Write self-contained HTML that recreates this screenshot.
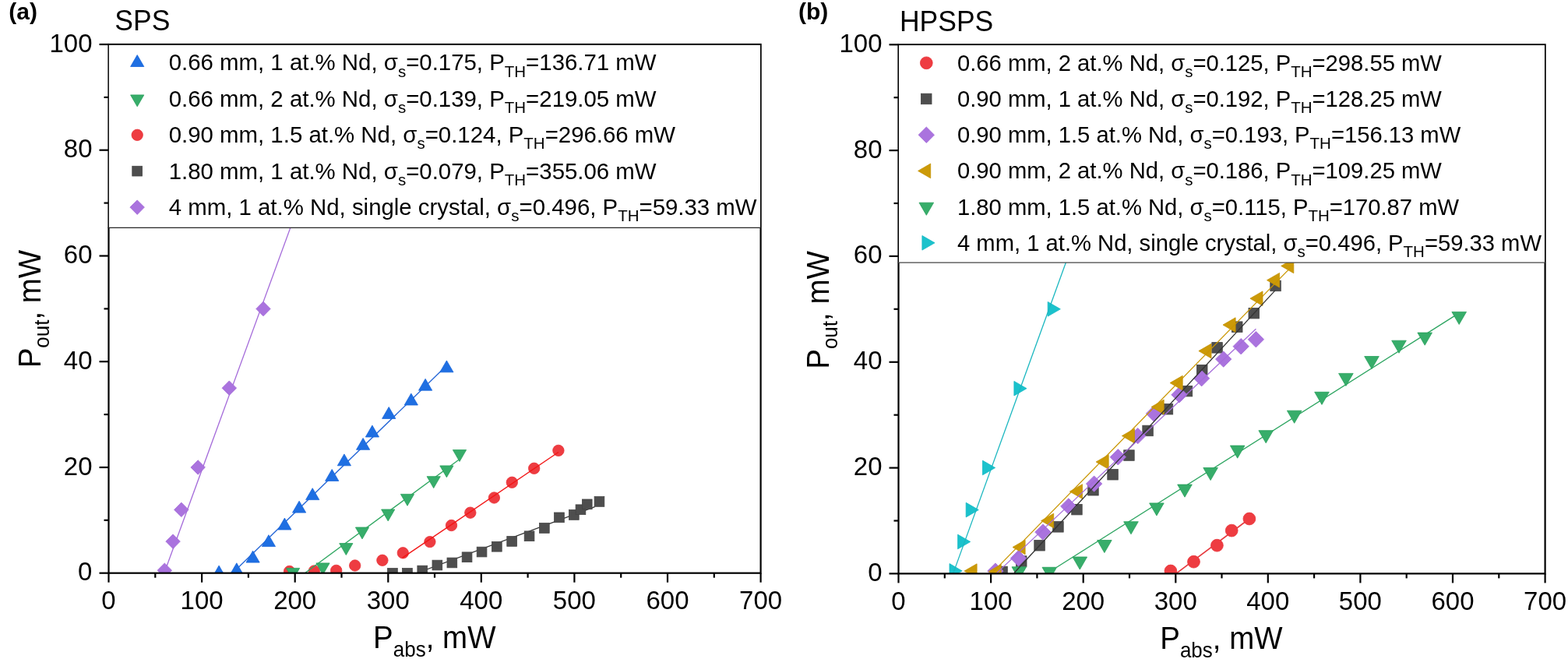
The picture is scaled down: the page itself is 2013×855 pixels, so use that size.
<!DOCTYPE html>
<html><head><meta charset="utf-8"><title>Laser output power vs absorbed power</title>
<style>html,body{margin:0;padding:0;background:#fff;overflow:hidden}svg{display:block}</style>
</head><body>
<svg width="2013" height="855" viewBox="0 0 2013 855" font-family='"Liberation Sans", Arial, Helvetica, sans-serif'>
<defs><clipPath id="ca"><rect x="139.5" y="57.0" width="837.1" height="678.7"/></clipPath><clipPath id="cb"><rect x="1153.5" y="57.3" width="830.1" height="679.1"/></clipPath></defs>
<rect width="2013" height="855" fill="#fff"/>
<text x="11.3" y="25.1" font-size="30" font-weight="bold">(a)</text>
<text x="1025.0" y="24.8" font-size="30" font-weight="bold">(b)</text>
<text x="147.3" y="39" transform="matrix(1 0 0 1.040 0 -1.560)" font-size="35.5">SPS</text>
<text x="1155" y="40.2" transform="matrix(1 0 0 1.040 0 -1.608)" font-size="35.5">HPSPS</text>
<g clip-path="url(#ca)">
<line x1="534.3" y1="736.0" x2="763.6" y2="650.6" stroke="#333333" stroke-width="1.3"/>
<rect x="497.6" y="729.6" width="12.7" height="12.7" fill="#4e4e4e" stroke="#444444" stroke-width="0.8"/>
<rect x="516.6" y="729.6" width="12.7" height="12.7" fill="#4e4e4e" stroke="#444444" stroke-width="0.8"/>
<rect x="535.9" y="726.2" width="12.7" height="12.7" fill="#4e4e4e" stroke="#444444" stroke-width="0.8"/>
<rect x="555.0" y="719.2" width="12.7" height="12.7" fill="#4e4e4e" stroke="#444444" stroke-width="0.8"/>
<rect x="574.0" y="716.1" width="12.7" height="12.7" fill="#4e4e4e" stroke="#444444" stroke-width="0.8"/>
<rect x="593.2" y="708.9" width="12.7" height="12.7" fill="#4e4e4e" stroke="#444444" stroke-width="0.8"/>
<rect x="612.2" y="702.2" width="12.7" height="12.7" fill="#4e4e4e" stroke="#444444" stroke-width="0.8"/>
<rect x="631.5" y="695.4" width="12.7" height="12.7" fill="#4e4e4e" stroke="#444444" stroke-width="0.8"/>
<rect x="650.8" y="688.6" width="12.7" height="12.7" fill="#4e4e4e" stroke="#444444" stroke-width="0.8"/>
<rect x="673.2" y="681.9" width="12.7" height="12.7" fill="#4e4e4e" stroke="#444444" stroke-width="0.8"/>
<rect x="692.5" y="671.6" width="12.7" height="12.7" fill="#4e4e4e" stroke="#444444" stroke-width="0.8"/>
<rect x="711.6" y="658.0" width="12.7" height="12.7" fill="#4e4e4e" stroke="#444444" stroke-width="0.8"/>
<rect x="730.5" y="654.6" width="12.7" height="12.7" fill="#4e4e4e" stroke="#444444" stroke-width="0.8"/>
<rect x="739.1" y="647.9" width="12.7" height="12.7" fill="#4e4e4e" stroke="#444444" stroke-width="0.8"/>
<rect x="747.4" y="641.0" width="12.7" height="12.7" fill="#4e4e4e" stroke="#444444" stroke-width="0.8"/>
<rect x="763.1" y="637.6" width="12.7" height="12.7" fill="#4e4e4e" stroke="#444444" stroke-width="0.8"/>
<circle cx="371.6" cy="733.5" r="7.2" fill="#ee3c41" stroke="#e8343a" stroke-width="0.8"/>
<circle cx="403.3" cy="733.0" r="7.2" fill="#ee3c41" stroke="#e8343a" stroke-width="0.8"/>
<circle cx="431.7" cy="732.4" r="7.2" fill="#ee3c41" stroke="#e8343a" stroke-width="0.8"/>
<circle cx="455.7" cy="726.0" r="7.2" fill="#ee3c41" stroke="#e8343a" stroke-width="0.8"/>
<circle cx="490.9" cy="719.3" r="7.2" fill="#ee3c41" stroke="#e8343a" stroke-width="0.8"/>
<circle cx="517.3" cy="709.8" r="7.2" fill="#ee3c41" stroke="#e8343a" stroke-width="0.8"/>
<circle cx="551.9" cy="695.6" r="7.2" fill="#ee3c41" stroke="#e8343a" stroke-width="0.8"/>
<circle cx="579.5" cy="674.5" r="7.2" fill="#ee3c41" stroke="#e8343a" stroke-width="0.8"/>
<circle cx="603.8" cy="658.2" r="7.2" fill="#ee3c41" stroke="#e8343a" stroke-width="0.8"/>
<circle cx="634.4" cy="639.0" r="7.2" fill="#ee3c41" stroke="#e8343a" stroke-width="0.8"/>
<circle cx="657.3" cy="619.3" r="7.2" fill="#ee3c41" stroke="#e8343a" stroke-width="0.8"/>
<circle cx="685.7" cy="601.3" r="7.2" fill="#ee3c41" stroke="#e8343a" stroke-width="0.8"/>
<circle cx="716.9" cy="578.4" r="7.2" fill="#ee3c41" stroke="#e8343a" stroke-width="0.8"/>
<line x1="516.6" y1="716.1" x2="716.9" y2="580.5" stroke="#f21515" stroke-width="1.4"/>
<line x1="391.1" y1="736.0" x2="590.0" y2="589.4" stroke="#2ea660" stroke-width="1.3"/>
<polygon points="376.1,744.3 384.7,729.4 367.5,729.4" fill="#37ad6a" stroke="#27a05b" stroke-width="0.8" stroke-linejoin="miter"/>
<polygon points="414.5,737.8 423.1,722.9 405.9,722.9" fill="#37ad6a" stroke="#27a05b" stroke-width="0.8" stroke-linejoin="miter"/>
<polygon points="444.3,712.5 452.9,697.6 435.7,697.6" fill="#37ad6a" stroke="#27a05b" stroke-width="0.8" stroke-linejoin="miter"/>
<polygon points="465.0,691.9 473.6,677.0 456.4,677.0" fill="#37ad6a" stroke="#27a05b" stroke-width="0.8" stroke-linejoin="miter"/>
<polygon points="498.2,668.9 506.8,654.0 489.6,654.0" fill="#37ad6a" stroke="#27a05b" stroke-width="0.8" stroke-linejoin="miter"/>
<polygon points="523.0,649.3 531.6,634.4 514.4,634.4" fill="#37ad6a" stroke="#27a05b" stroke-width="0.8" stroke-linejoin="miter"/>
<polygon points="556.7,626.6 565.3,611.7 548.1,611.7" fill="#37ad6a" stroke="#27a05b" stroke-width="0.8" stroke-linejoin="miter"/>
<polygon points="573.4,612.8 582.0,597.9 564.8,597.9" fill="#37ad6a" stroke="#27a05b" stroke-width="0.8" stroke-linejoin="miter"/>
<polygon points="590.0,592.5 598.6,577.6 581.4,577.6" fill="#37ad6a" stroke="#27a05b" stroke-width="0.8" stroke-linejoin="miter"/>
<line x1="298.2" y1="736.0" x2="573.4" y2="469.3" stroke="#2264d6" stroke-width="1.3"/>
<polygon points="281.1,726.1 289.7,741.0 272.5,741.0" fill="#1f6fe2" stroke="#1664da" stroke-width="0.8" stroke-linejoin="miter"/>
<polygon points="303.8,722.8 312.4,737.7 295.2,737.7" fill="#1f6fe2" stroke="#1664da" stroke-width="0.8" stroke-linejoin="miter"/>
<polygon points="324.6,707.2 333.2,722.1 316.0,722.1" fill="#1f6fe2" stroke="#1664da" stroke-width="0.8" stroke-linejoin="miter"/>
<polygon points="344.9,686.7 353.5,701.6 336.3,701.6" fill="#1f6fe2" stroke="#1664da" stroke-width="0.8" stroke-linejoin="miter"/>
<polygon points="365.4,665.1 374.0,680.0 356.8,680.0" fill="#1f6fe2" stroke="#1664da" stroke-width="0.8" stroke-linejoin="miter"/>
<polygon points="384.1,643.2 392.7,658.1 375.5,658.1" fill="#1f6fe2" stroke="#1664da" stroke-width="0.8" stroke-linejoin="miter"/>
<polygon points="401.2,626.7 409.8,641.6 392.6,641.6" fill="#1f6fe2" stroke="#1664da" stroke-width="0.8" stroke-linejoin="miter"/>
<polygon points="426.2,602.5 434.8,617.4 417.6,617.4" fill="#1f6fe2" stroke="#1664da" stroke-width="0.8" stroke-linejoin="miter"/>
<polygon points="441.9,582.9 450.5,597.8 433.3,597.8" fill="#1f6fe2" stroke="#1664da" stroke-width="0.8" stroke-linejoin="miter"/>
<polygon points="466.1,562.4 474.7,577.3 457.5,577.3" fill="#1f6fe2" stroke="#1664da" stroke-width="0.8" stroke-linejoin="miter"/>
<polygon points="477.9,546.1 486.5,561.0 469.3,561.0" fill="#1f6fe2" stroke="#1664da" stroke-width="0.8" stroke-linejoin="miter"/>
<polygon points="499.2,522.5 507.8,537.4 490.6,537.4" fill="#1f6fe2" stroke="#1664da" stroke-width="0.8" stroke-linejoin="miter"/>
<polygon points="527.8,505.1 536.4,520.0 519.2,520.0" fill="#1f6fe2" stroke="#1664da" stroke-width="0.8" stroke-linejoin="miter"/>
<polygon points="546.1,486.3 554.7,501.2 537.5,501.2" fill="#1f6fe2" stroke="#1664da" stroke-width="0.8" stroke-linejoin="miter"/>
<polygon points="573.4,462.9 582.0,477.8 564.8,477.8" fill="#1f6fe2" stroke="#1664da" stroke-width="0.8" stroke-linejoin="miter"/>
<line x1="210.8" y1="735.7" x2="388.3" y2="250.0" stroke="#a56cda" stroke-width="1.3"/>
<polygon points="211.3,723.0 220.6,732.2 211.3,741.5 202.1,732.2" fill="#aa73de" stroke="#a36bd8" stroke-width="0.8" stroke-linejoin="miter"/>
<polygon points="222.1,685.9 231.3,695.1 222.1,704.4 212.8,695.1" fill="#aa73de" stroke="#a36bd8" stroke-width="0.8" stroke-linejoin="miter"/>
<polygon points="232.8,645.1 242.1,654.4 232.8,663.6 223.6,654.4" fill="#aa73de" stroke="#a36bd8" stroke-width="0.8" stroke-linejoin="miter"/>
<polygon points="254.2,590.8 263.4,600.0 254.2,609.2 244.9,600.0" fill="#aa73de" stroke="#a36bd8" stroke-width="0.8" stroke-linejoin="miter"/>
<polygon points="294.3,488.9 303.6,498.2 294.3,507.4 285.1,498.2" fill="#aa73de" stroke="#a36bd8" stroke-width="0.8" stroke-linejoin="miter"/>
<polygon points="338.0,387.2 347.2,396.5 338.0,405.8 328.8,396.5" fill="#aa73de" stroke="#a36bd8" stroke-width="0.8" stroke-linejoin="miter"/>
</g>
<g clip-path="url(#cb)">
<line x1="1509.8" y1="736.4" x2="1603.9" y2="666.0" stroke="#e63a3f" stroke-width="1.7"/>
<line x1="1356.2" y1="728.5" x2="1873.2" y2="401.9" stroke="#29a35e" stroke-width="1.3"/>
<circle cx="1502.9" cy="733.0" r="7.9" fill="#ee3c41" stroke="#e8343a" stroke-width="0.8"/>
<circle cx="1532.5" cy="721.2" r="7.9" fill="#ee3c41" stroke="#e8343a" stroke-width="0.8"/>
<circle cx="1562.4" cy="700.2" r="7.9" fill="#ee3c41" stroke="#e8343a" stroke-width="0.8"/>
<circle cx="1581.2" cy="681.1" r="7.9" fill="#ee3c41" stroke="#e8343a" stroke-width="0.8"/>
<circle cx="1603.9" cy="666.0" r="7.9" fill="#ee3c41" stroke="#e8343a" stroke-width="0.8"/>
<rect x="1279.8" y="727.2" width="13.5" height="13.5" fill="#4e4e4e" stroke="#444444" stroke-width="0.8"/>
<rect x="1304.5" y="713.8" width="13.5" height="13.5" fill="#4e4e4e" stroke="#444444" stroke-width="0.8"/>
<rect x="1327.8" y="693.5" width="13.5" height="13.5" fill="#4e4e4e" stroke="#444444" stroke-width="0.8"/>
<rect x="1351.7" y="669.6" width="13.5" height="13.5" fill="#4e4e4e" stroke="#444444" stroke-width="0.8"/>
<rect x="1375.7" y="647.4" width="13.5" height="13.5" fill="#4e4e4e" stroke="#444444" stroke-width="0.8"/>
<rect x="1396.7" y="622.5" width="13.5" height="13.5" fill="#4e4e4e" stroke="#444444" stroke-width="0.8"/>
<rect x="1421.8" y="602.5" width="13.5" height="13.5" fill="#4e4e4e" stroke="#444444" stroke-width="0.8"/>
<rect x="1442.7" y="577.8" width="13.5" height="13.5" fill="#4e4e4e" stroke="#444444" stroke-width="0.8"/>
<rect x="1466.8" y="546.2" width="13.5" height="13.5" fill="#4e4e4e" stroke="#444444" stroke-width="0.8"/>
<rect x="1492.2" y="518.5" width="13.5" height="13.5" fill="#4e4e4e" stroke="#444444" stroke-width="0.8"/>
<rect x="1517.2" y="495.4" width="13.5" height="13.5" fill="#4e4e4e" stroke="#444444" stroke-width="0.8"/>
<rect x="1536.5" y="468.4" width="13.5" height="13.5" fill="#4e4e4e" stroke="#444444" stroke-width="0.8"/>
<rect x="1555.8" y="439.6" width="13.5" height="13.5" fill="#4e4e4e" stroke="#444444" stroke-width="0.8"/>
<rect x="1581.5" y="412.9" width="13.5" height="13.5" fill="#4e4e4e" stroke="#444444" stroke-width="0.8"/>
<rect x="1603.0" y="395.4" width="13.5" height="13.5" fill="#4e4e4e" stroke="#444444" stroke-width="0.8"/>
<rect x="1630.8" y="360.2" width="13.5" height="13.5" fill="#4e4e4e" stroke="#444444" stroke-width="0.8"/>
<polygon points="1277.9,722.9 1288.1,733.1 1277.9,743.3 1267.7,733.1" fill="#aa73de" stroke="#a36bd8" stroke-width="0.8" stroke-linejoin="miter"/>
<polygon points="1307.5,706.5 1317.7,716.7 1307.5,726.9 1297.3,716.7" fill="#aa73de" stroke="#a36bd8" stroke-width="0.8" stroke-linejoin="miter"/>
<polygon points="1338.9,672.9 1349.1,683.1 1338.9,693.3 1328.7,683.1" fill="#aa73de" stroke="#a36bd8" stroke-width="0.8" stroke-linejoin="miter"/>
<polygon points="1371.8,639.8 1382.0,650.0 1371.8,660.2 1361.6,650.0" fill="#aa73de" stroke="#a36bd8" stroke-width="0.8" stroke-linejoin="miter"/>
<polygon points="1404.6,610.9 1414.8,621.1 1404.6,631.3 1394.4,621.1" fill="#aa73de" stroke="#a36bd8" stroke-width="0.8" stroke-linejoin="miter"/>
<polygon points="1435.3,576.6 1445.5,586.8 1435.3,597.0 1425.1,586.8" fill="#aa73de" stroke="#a36bd8" stroke-width="0.8" stroke-linejoin="miter"/>
<polygon points="1460.7,549.4 1470.9,559.6 1460.7,569.8 1450.5,559.6" fill="#aa73de" stroke="#a36bd8" stroke-width="0.8" stroke-linejoin="miter"/>
<polygon points="1481.5,520.8 1491.7,531.0 1481.5,541.2 1471.3,531.0" fill="#aa73de" stroke="#a36bd8" stroke-width="0.8" stroke-linejoin="miter"/>
<polygon points="1514.0,496.6 1524.2,506.8 1514.0,517.0 1503.8,506.8" fill="#aa73de" stroke="#a36bd8" stroke-width="0.8" stroke-linejoin="miter"/>
<polygon points="1542.6,475.5 1552.8,485.7 1542.6,495.9 1532.4,485.7" fill="#aa73de" stroke="#a36bd8" stroke-width="0.8" stroke-linejoin="miter"/>
<polygon points="1570.7,450.9 1580.9,461.1 1570.7,471.3 1560.5,461.1" fill="#aa73de" stroke="#a36bd8" stroke-width="0.8" stroke-linejoin="miter"/>
<polygon points="1593.2,434.5 1603.4,444.7 1593.2,454.9 1583.0,444.7" fill="#aa73de" stroke="#a36bd8" stroke-width="0.8" stroke-linejoin="miter"/>
<polygon points="1612.4,425.5 1622.6,435.7 1612.4,445.9 1602.2,435.7" fill="#aa73de" stroke="#a36bd8" stroke-width="0.8" stroke-linejoin="miter"/>
<polygon points="1238.0,733.1 1254.1,723.8 1254.1,742.4" fill="#cc9a08" stroke="#c49204" stroke-width="0.8" stroke-linejoin="miter"/>
<polygon points="1269.1,733.7 1285.2,724.4 1285.2,743.0" fill="#cc9a08" stroke="#c49204" stroke-width="0.8" stroke-linejoin="miter"/>
<polygon points="1300.0,702.5 1316.1,693.2 1316.1,711.8" fill="#cc9a08" stroke="#c49204" stroke-width="0.8" stroke-linejoin="miter"/>
<polygon points="1336.6,668.5 1352.7,659.2 1352.7,677.8" fill="#cc9a08" stroke="#c49204" stroke-width="0.8" stroke-linejoin="miter"/>
<polygon points="1373.4,631.0 1389.5,621.7 1389.5,640.3" fill="#cc9a08" stroke="#c49204" stroke-width="0.8" stroke-linejoin="miter"/>
<polygon points="1407.1,593.0 1423.2,583.7 1423.2,602.3" fill="#cc9a08" stroke="#c49204" stroke-width="0.8" stroke-linejoin="miter"/>
<polygon points="1440.4,559.6 1456.5,550.3 1456.5,568.9" fill="#cc9a08" stroke="#c49204" stroke-width="0.8" stroke-linejoin="miter"/>
<polygon points="1478.1,522.4 1494.2,513.1 1494.2,531.7" fill="#cc9a08" stroke="#c49204" stroke-width="0.8" stroke-linejoin="miter"/>
<polygon points="1502.1,491.6 1518.2,482.3 1518.2,500.9" fill="#cc9a08" stroke="#c49204" stroke-width="0.8" stroke-linejoin="miter"/>
<polygon points="1538.9,450.6 1555.0,441.3 1555.0,459.9" fill="#cc9a08" stroke="#c49204" stroke-width="0.8" stroke-linejoin="miter"/>
<polygon points="1570.0,417.1 1586.1,407.8 1586.1,426.4" fill="#cc9a08" stroke="#c49204" stroke-width="0.8" stroke-linejoin="miter"/>
<polygon points="1604.9,383.2 1621.0,373.9 1621.0,392.5" fill="#cc9a08" stroke="#c49204" stroke-width="0.8" stroke-linejoin="miter"/>
<polygon points="1626.5,359.7 1642.6,350.4 1642.6,369.0" fill="#cc9a08" stroke="#c49204" stroke-width="0.8" stroke-linejoin="miter"/>
<polygon points="1644.7,341.4 1660.8,332.1 1660.8,350.7" fill="#cc9a08" stroke="#c49204" stroke-width="0.8" stroke-linejoin="miter"/>
<polygon points="1308.3,743.9 1317.6,727.8 1299.0,727.8" fill="#37ad6a" stroke="#27a05b" stroke-width="0.8" stroke-linejoin="miter"/>
<polygon points="1347.3,744.4 1356.6,728.3 1338.0,728.3" fill="#37ad6a" stroke="#27a05b" stroke-width="0.8" stroke-linejoin="miter"/>
<polygon points="1386.3,731.1 1395.6,715.0 1377.0,715.0" fill="#37ad6a" stroke="#27a05b" stroke-width="0.8" stroke-linejoin="miter"/>
<polygon points="1417.9,709.6 1427.2,693.5 1408.6,693.5" fill="#37ad6a" stroke="#27a05b" stroke-width="0.8" stroke-linejoin="miter"/>
<polygon points="1452.0,685.8 1461.3,669.7 1442.7,669.7" fill="#37ad6a" stroke="#27a05b" stroke-width="0.8" stroke-linejoin="miter"/>
<polygon points="1484.9,662.0 1494.2,645.9 1475.6,645.9" fill="#37ad6a" stroke="#27a05b" stroke-width="0.8" stroke-linejoin="miter"/>
<polygon points="1521.0,638.2 1530.3,622.1 1511.7,622.1" fill="#37ad6a" stroke="#27a05b" stroke-width="0.8" stroke-linejoin="miter"/>
<polygon points="1554.1,616.6 1563.4,600.5 1544.8,600.5" fill="#37ad6a" stroke="#27a05b" stroke-width="0.8" stroke-linejoin="miter"/>
<polygon points="1588.7,588.2 1598.0,572.1 1579.4,572.1" fill="#37ad6a" stroke="#27a05b" stroke-width="0.8" stroke-linejoin="miter"/>
<polygon points="1625.2,568.8 1634.5,552.7 1615.9,552.7" fill="#37ad6a" stroke="#27a05b" stroke-width="0.8" stroke-linejoin="miter"/>
<polygon points="1661.7,543.3 1671.0,527.2 1652.4,527.2" fill="#37ad6a" stroke="#27a05b" stroke-width="0.8" stroke-linejoin="miter"/>
<polygon points="1697.0,519.4 1706.3,503.3 1687.7,503.3" fill="#37ad6a" stroke="#27a05b" stroke-width="0.8" stroke-linejoin="miter"/>
<polygon points="1727.9,495.5 1737.2,479.4 1718.6,479.4" fill="#37ad6a" stroke="#27a05b" stroke-width="0.8" stroke-linejoin="miter"/>
<polygon points="1761.0,473.6 1770.3,457.5 1751.7,457.5" fill="#37ad6a" stroke="#27a05b" stroke-width="0.8" stroke-linejoin="miter"/>
<polygon points="1796.0,453.3 1805.3,437.2 1786.7,437.2" fill="#37ad6a" stroke="#27a05b" stroke-width="0.8" stroke-linejoin="miter"/>
<polygon points="1829.2,443.2 1838.5,427.1 1819.9,427.1" fill="#37ad6a" stroke="#27a05b" stroke-width="0.8" stroke-linejoin="miter"/>
<polygon points="1873.2,416.5 1882.5,400.4 1863.9,400.4" fill="#37ad6a" stroke="#27a05b" stroke-width="0.8" stroke-linejoin="miter"/>
<polygon points="1235.1,732.9 1219.0,723.6 1219.0,742.2" fill="#1bc2cc" stroke="#12b9c4" stroke-width="0.8" stroke-linejoin="miter"/>
<polygon points="1245.7,695.5 1229.6,686.2 1229.6,704.8" fill="#1bc2cc" stroke="#12b9c4" stroke-width="0.8" stroke-linejoin="miter"/>
<polygon points="1256.3,654.6 1240.2,645.3 1240.2,663.9" fill="#1bc2cc" stroke="#12b9c4" stroke-width="0.8" stroke-linejoin="miter"/>
<polygon points="1277.6,600.5 1261.5,591.2 1261.5,609.8" fill="#1bc2cc" stroke="#12b9c4" stroke-width="0.8" stroke-linejoin="miter"/>
<polygon points="1318.0,498.7 1301.9,489.4 1301.9,508.0" fill="#1bc2cc" stroke="#12b9c4" stroke-width="0.8" stroke-linejoin="miter"/>
<polygon points="1361.3,396.8 1345.2,387.5 1345.2,406.1" fill="#1bc2cc" stroke="#12b9c4" stroke-width="0.8" stroke-linejoin="miter"/>
<line x1="1302.0" y1="735.5" x2="1637.0" y2="372.9" stroke="#333333" stroke-width="1.3"/>
<line x1="1278.9" y1="736.4" x2="1612.4" y2="422.3" stroke="#a56cda" stroke-width="1.3"/>
<line x1="1272.8" y1="736.4" x2="1656.0" y2="344.4" stroke="#c99600" stroke-width="1.3"/>
<line x1="1223.6" y1="736.4" x2="1381.8" y2="300.0" stroke="#1bb7c0" stroke-width="1.3"/>
</g>
<rect x="139.5" y="57.0" width="837.1" height="678.7" fill="none" stroke="#000" stroke-width="2.2"/>
<line x1="139.5" y1="735.7" x2="139.5" y2="747.7" stroke="#000" stroke-width="2.2"/>
<text x="139.5" y="782.2" transform="matrix(1 0 0 1.035 0 -27.377)" font-size="33" text-anchor="middle">0</text>
<line x1="199.3" y1="735.7" x2="199.3" y2="741.7" stroke="#000" stroke-width="2.2"/>
<line x1="259.1" y1="735.7" x2="259.1" y2="747.7" stroke="#000" stroke-width="2.2"/>
<text x="259.1" y="782.2" transform="matrix(1 0 0 1.035 0 -27.377)" font-size="33" text-anchor="middle">100</text>
<line x1="318.9" y1="735.7" x2="318.9" y2="741.7" stroke="#000" stroke-width="2.2"/>
<line x1="378.7" y1="735.7" x2="378.7" y2="747.7" stroke="#000" stroke-width="2.2"/>
<text x="378.7" y="782.2" transform="matrix(1 0 0 1.035 0 -27.377)" font-size="33" text-anchor="middle">200</text>
<line x1="438.5" y1="735.7" x2="438.5" y2="741.7" stroke="#000" stroke-width="2.2"/>
<line x1="498.3" y1="735.7" x2="498.3" y2="747.7" stroke="#000" stroke-width="2.2"/>
<text x="498.3" y="782.2" transform="matrix(1 0 0 1.035 0 -27.377)" font-size="33" text-anchor="middle">300</text>
<line x1="558.0" y1="735.7" x2="558.0" y2="741.7" stroke="#000" stroke-width="2.2"/>
<line x1="617.8" y1="735.7" x2="617.8" y2="747.7" stroke="#000" stroke-width="2.2"/>
<text x="617.8" y="782.2" transform="matrix(1 0 0 1.035 0 -27.377)" font-size="33" text-anchor="middle">400</text>
<line x1="677.6" y1="735.7" x2="677.6" y2="741.7" stroke="#000" stroke-width="2.2"/>
<line x1="737.4" y1="735.7" x2="737.4" y2="747.7" stroke="#000" stroke-width="2.2"/>
<text x="737.4" y="782.2" transform="matrix(1 0 0 1.035 0 -27.377)" font-size="33" text-anchor="middle">500</text>
<line x1="797.2" y1="735.7" x2="797.2" y2="741.7" stroke="#000" stroke-width="2.2"/>
<line x1="857.0" y1="735.7" x2="857.0" y2="747.7" stroke="#000" stroke-width="2.2"/>
<text x="857.0" y="782.2" transform="matrix(1 0 0 1.035 0 -27.377)" font-size="33" text-anchor="middle">600</text>
<line x1="916.8" y1="735.7" x2="916.8" y2="741.7" stroke="#000" stroke-width="2.2"/>
<line x1="976.6" y1="735.7" x2="976.6" y2="747.7" stroke="#000" stroke-width="2.2"/>
<text x="976.6" y="782.2" transform="matrix(1 0 0 1.035 0 -27.377)" font-size="33" text-anchor="middle">700</text>
<line x1="127.5" y1="735.7" x2="139.5" y2="735.7" stroke="#000" stroke-width="2.2"/>
<text x="118.5" y="745.3" transform="matrix(1 0 0 1.035 0 -26.085)" font-size="33" text-anchor="end">0</text>
<line x1="133.5" y1="667.8" x2="139.5" y2="667.8" stroke="#000" stroke-width="2.2"/>
<line x1="127.5" y1="600.0" x2="139.5" y2="600.0" stroke="#000" stroke-width="2.2"/>
<text x="118.5" y="609.6" transform="matrix(1 0 0 1.035 0 -21.335)" font-size="33" text-anchor="end">20</text>
<line x1="133.5" y1="532.1" x2="139.5" y2="532.1" stroke="#000" stroke-width="2.2"/>
<line x1="127.5" y1="464.2" x2="139.5" y2="464.2" stroke="#000" stroke-width="2.2"/>
<text x="118.5" y="473.8" transform="matrix(1 0 0 1.035 0 -16.584)" font-size="33" text-anchor="end">40</text>
<line x1="133.5" y1="396.4" x2="139.5" y2="396.4" stroke="#000" stroke-width="2.2"/>
<line x1="127.5" y1="328.5" x2="139.5" y2="328.5" stroke="#000" stroke-width="2.2"/>
<text x="118.5" y="338.1" transform="matrix(1 0 0 1.035 0 -11.833)" font-size="33" text-anchor="end">60</text>
<line x1="133.5" y1="260.6" x2="139.5" y2="260.6" stroke="#000" stroke-width="2.2"/>
<line x1="127.5" y1="192.7" x2="139.5" y2="192.7" stroke="#000" stroke-width="2.2"/>
<text x="118.5" y="202.3" transform="matrix(1 0 0 1.035 0 -7.082)" font-size="33" text-anchor="end">80</text>
<line x1="133.5" y1="124.9" x2="139.5" y2="124.9" stroke="#000" stroke-width="2.2"/>
<line x1="127.5" y1="57.0" x2="139.5" y2="57.0" stroke="#000" stroke-width="2.2"/>
<text x="118.5" y="66.6" transform="matrix(1 0 0 1.035 0 -2.331)" font-size="33" text-anchor="end">100</text>
<rect x="1153.5" y="57.3" width="830.1" height="679.1" fill="none" stroke="#000" stroke-width="2.2"/>
<line x1="1153.5" y1="736.4" x2="1153.5" y2="748.4" stroke="#000" stroke-width="2.2"/>
<text x="1153.5" y="782.9" transform="matrix(1 0 0 1.035 0 -27.401)" font-size="33" text-anchor="middle">0</text>
<line x1="1212.8" y1="736.4" x2="1212.8" y2="742.4" stroke="#000" stroke-width="2.2"/>
<line x1="1272.1" y1="736.4" x2="1272.1" y2="748.4" stroke="#000" stroke-width="2.2"/>
<text x="1272.1" y="782.9" transform="matrix(1 0 0 1.035 0 -27.401)" font-size="33" text-anchor="middle">100</text>
<line x1="1331.4" y1="736.4" x2="1331.4" y2="742.4" stroke="#000" stroke-width="2.2"/>
<line x1="1390.7" y1="736.4" x2="1390.7" y2="748.4" stroke="#000" stroke-width="2.2"/>
<text x="1390.7" y="782.9" transform="matrix(1 0 0 1.035 0 -27.401)" font-size="33" text-anchor="middle">200</text>
<line x1="1450.0" y1="736.4" x2="1450.0" y2="742.4" stroke="#000" stroke-width="2.2"/>
<line x1="1509.3" y1="736.4" x2="1509.3" y2="748.4" stroke="#000" stroke-width="2.2"/>
<text x="1509.3" y="782.9" transform="matrix(1 0 0 1.035 0 -27.401)" font-size="33" text-anchor="middle">300</text>
<line x1="1568.5" y1="736.4" x2="1568.5" y2="742.4" stroke="#000" stroke-width="2.2"/>
<line x1="1627.8" y1="736.4" x2="1627.8" y2="748.4" stroke="#000" stroke-width="2.2"/>
<text x="1627.8" y="782.9" transform="matrix(1 0 0 1.035 0 -27.401)" font-size="33" text-anchor="middle">400</text>
<line x1="1687.1" y1="736.4" x2="1687.1" y2="742.4" stroke="#000" stroke-width="2.2"/>
<line x1="1746.4" y1="736.4" x2="1746.4" y2="748.4" stroke="#000" stroke-width="2.2"/>
<text x="1746.4" y="782.9" transform="matrix(1 0 0 1.035 0 -27.401)" font-size="33" text-anchor="middle">500</text>
<line x1="1805.7" y1="736.4" x2="1805.7" y2="742.4" stroke="#000" stroke-width="2.2"/>
<line x1="1865.0" y1="736.4" x2="1865.0" y2="748.4" stroke="#000" stroke-width="2.2"/>
<text x="1865.0" y="782.9" transform="matrix(1 0 0 1.035 0 -27.401)" font-size="33" text-anchor="middle">600</text>
<line x1="1924.3" y1="736.4" x2="1924.3" y2="742.4" stroke="#000" stroke-width="2.2"/>
<line x1="1983.6" y1="736.4" x2="1983.6" y2="748.4" stroke="#000" stroke-width="2.2"/>
<text x="1983.6" y="782.9" transform="matrix(1 0 0 1.035 0 -27.401)" font-size="33" text-anchor="middle">700</text>
<line x1="1141.5" y1="736.4" x2="1153.5" y2="736.4" stroke="#000" stroke-width="2.2"/>
<text x="1132.5" y="746.0" transform="matrix(1 0 0 1.035 0 -26.110)" font-size="33" text-anchor="end">0</text>
<line x1="1147.5" y1="668.5" x2="1153.5" y2="668.5" stroke="#000" stroke-width="2.2"/>
<line x1="1141.5" y1="600.6" x2="1153.5" y2="600.6" stroke="#000" stroke-width="2.2"/>
<text x="1132.5" y="610.2" transform="matrix(1 0 0 1.035 0 -21.356)" font-size="33" text-anchor="end">20</text>
<line x1="1147.5" y1="532.7" x2="1153.5" y2="532.7" stroke="#000" stroke-width="2.2"/>
<line x1="1141.5" y1="464.8" x2="1153.5" y2="464.8" stroke="#000" stroke-width="2.2"/>
<text x="1132.5" y="474.4" transform="matrix(1 0 0 1.035 0 -16.603)" font-size="33" text-anchor="end">40</text>
<line x1="1147.5" y1="396.8" x2="1153.5" y2="396.8" stroke="#000" stroke-width="2.2"/>
<line x1="1141.5" y1="328.9" x2="1153.5" y2="328.9" stroke="#000" stroke-width="2.2"/>
<text x="1132.5" y="338.5" transform="matrix(1 0 0 1.035 0 -11.849)" font-size="33" text-anchor="end">60</text>
<line x1="1147.5" y1="261.0" x2="1153.5" y2="261.0" stroke="#000" stroke-width="2.2"/>
<line x1="1141.5" y1="193.1" x2="1153.5" y2="193.1" stroke="#000" stroke-width="2.2"/>
<text x="1132.5" y="202.7" transform="matrix(1 0 0 1.035 0 -7.095)" font-size="33" text-anchor="end">80</text>
<line x1="1147.5" y1="125.2" x2="1153.5" y2="125.2" stroke="#000" stroke-width="2.2"/>
<line x1="1141.5" y1="57.3" x2="1153.5" y2="57.3" stroke="#000" stroke-width="2.2"/>
<text x="1132.5" y="66.9" transform="matrix(1 0 0 1.035 0 -2.341)" font-size="33" text-anchor="end">100</text>
<rect x="139.90" y="57.90" width="836.06" height="234.50" fill="#fff"/>
<line x1="138.50" y1="292.40" x2="976.60" y2="292.40" stroke="#262626" stroke-width="1.4"/>
<polygon points="176.2,70.6 184.8,85.5 167.6,85.5" fill="#1f6fe2" stroke="#1664da" stroke-width="0.8" stroke-linejoin="miter"/>
<text x="216.7" y="90.5" transform="matrix(1 0 0 1.020 0 -1.810)" font-size="29.4">0.66 mm, 1 at.% Nd, &#963;<tspan dy="8" font-size="20.5">s</tspan><tspan dy="-8">=0.175, P</tspan><tspan dy="8" font-size="20.5">TH</tspan><tspan dy="-8">=136.71 mW</tspan></text>
<polygon points="176.2,136.8 184.8,121.9 167.6,121.9" fill="#37ad6a" stroke="#27a05b" stroke-width="0.8" stroke-linejoin="miter"/>
<text x="216.7" y="136.9" transform="matrix(1 0 0 1.020 0 -2.738)" font-size="29.4">0.66 mm, 2 at.% Nd, &#963;<tspan dy="8" font-size="20.5">s</tspan><tspan dy="-8">=0.139, P</tspan><tspan dy="8" font-size="20.5">TH</tspan><tspan dy="-8">=219.05 mW</tspan></text>
<circle cx="176.2" cy="173.3" r="7.2" fill="#ee3c41" stroke="#e8343a" stroke-width="0.8"/>
<text x="216.7" y="183.3" transform="matrix(1 0 0 1.020 0 -3.666)" font-size="29.4">0.90 mm, 1.5 at.% Nd, &#963;<tspan dy="8" font-size="20.5">s</tspan><tspan dy="-8">=0.124, P</tspan><tspan dy="8" font-size="20.5">TH</tspan><tspan dy="-8">=296.66 mW</tspan></text>
<rect x="169.8" y="213.3" width="12.7" height="12.7" fill="#4e4e4e" stroke="#444444" stroke-width="0.8"/>
<text x="216.7" y="229.7" transform="matrix(1 0 0 1.020 0 -4.594)" font-size="29.4">1.80 mm, 1 at.% Nd, &#963;<tspan dy="8" font-size="20.5">s</tspan><tspan dy="-8">=0.079, P</tspan><tspan dy="8" font-size="20.5">TH</tspan><tspan dy="-8">=355.06 mW</tspan></text>
<polygon points="176.2,256.9 185.4,266.1 176.2,275.4 166.9,266.1" fill="#aa73de" stroke="#a36bd8" stroke-width="0.8" stroke-linejoin="miter"/>
<text x="216.7" y="276.1" transform="matrix(1 0 0 1.020 0 -5.522)" font-size="29.4">4 mm, 1 at.% Nd, single crystal, &#963;<tspan dy="8" font-size="20.5">s</tspan><tspan dy="-8">=0.496, P</tspan><tspan dy="8" font-size="20.5">TH</tspan><tspan dy="-8">=59.33 mW</tspan></text>
<rect x="1154.00" y="58.20" width="829.00" height="278.90" fill="#fff"/>
<line x1="1152.50" y1="337.10" x2="1983.60" y2="337.10" stroke="#444" stroke-width="1.4"/>
<circle cx="1189.3" cy="80.8" r="7.9" fill="#ee3c41" stroke="#e8343a" stroke-width="0.8"/>
<text x="1229.0" y="90.8" transform="matrix(1 0 0 1.020 0 -1.816)" font-size="29.2">0.66 mm, 2 at.% Nd, &#963;<tspan dy="8" font-size="20.5">s</tspan><tspan dy="-8">=0.125, P</tspan><tspan dy="8" font-size="20.5">TH</tspan><tspan dy="-8">=298.55 mW</tspan></text>
<rect x="1182.5" y="120.2" width="13.5" height="13.5" fill="#4e4e4e" stroke="#444444" stroke-width="0.8"/>
<text x="1229.0" y="137.0" transform="matrix(1 0 0 1.020 0 -2.740)" font-size="29.2">0.90 mm, 1 at.% Nd, &#963;<tspan dy="8" font-size="20.5">s</tspan><tspan dy="-8">=0.192, P</tspan><tspan dy="8" font-size="20.5">TH</tspan><tspan dy="-8">=128.25 mW</tspan></text>
<polygon points="1189.3,163.0 1199.5,173.2 1189.3,183.4 1179.1,173.2" fill="#aa73de" stroke="#a36bd8" stroke-width="0.8" stroke-linejoin="miter"/>
<text x="1229.0" y="183.2" transform="matrix(1 0 0 1.020 0 -3.664)" font-size="29.2">0.90 mm, 1.5 at.% Nd, &#963;<tspan dy="8" font-size="20.5">s</tspan><tspan dy="-8">=0.193, P</tspan><tspan dy="8" font-size="20.5">TH</tspan><tspan dy="-8">=156.13 mW</tspan></text>
<polygon points="1178.6,219.4 1194.7,210.1 1194.7,228.7" fill="#cc9a08" stroke="#c49204" stroke-width="0.8" stroke-linejoin="miter"/>
<text x="1229.0" y="229.4" transform="matrix(1 0 0 1.020 0 -4.588)" font-size="29.2">0.90 mm, 2 at.% Nd, &#963;<tspan dy="8" font-size="20.5">s</tspan><tspan dy="-8">=0.186, P</tspan><tspan dy="8" font-size="20.5">TH</tspan><tspan dy="-8">=109.25 mW</tspan></text>
<polygon points="1189.3,276.3 1198.6,260.2 1180.0,260.2" fill="#37ad6a" stroke="#27a05b" stroke-width="0.8" stroke-linejoin="miter"/>
<text x="1229.0" y="275.6" transform="matrix(1 0 0 1.020 0 -5.512)" font-size="29.2">1.80 mm, 1.5 at.% Nd, &#963;<tspan dy="8" font-size="20.5">s</tspan><tspan dy="-8">=0.115, P</tspan><tspan dy="8" font-size="20.5">TH</tspan><tspan dy="-8">=170.87 mW</tspan></text>
<polygon points="1200.0,311.8 1183.9,302.5 1183.9,321.1" fill="#1bc2cc" stroke="#12b9c4" stroke-width="0.8" stroke-linejoin="miter"/>
<text x="1229.0" y="321.8" transform="matrix(1 0 0 1.020 0 -6.436)" font-size="29.2">4 mm, 1 at.% Nd, single crystal, &#963;<tspan dy="8" font-size="20.5">s</tspan><tspan dy="-8">=0.496, P</tspan><tspan dy="8" font-size="20.5">TH</tspan><tspan dy="-8">=59.33 mW</tspan></text>
<text x="557.8" y="831.9" transform="matrix(1 0 0 1.035 0 -29.116)" font-size="38.5" text-anchor="middle">P<tspan dy="11" font-size="26">abs</tspan><tspan dy="-11">, mW</tspan></text>
<text x="1567.9" y="832.8" transform="matrix(1 0 0 1.035 0 -29.148)" font-size="38.5" text-anchor="middle">P<tspan dy="11" font-size="26">abs</tspan><tspan dy="-11">, mW</tspan></text>
<text transform="translate(52.2 396.6) rotate(-90) scale(1 1.035)" font-size="38.5" text-anchor="middle">P<tspan dy="10.5" font-size="26">out</tspan><tspan dy="-10.5">, mW</tspan></text>
<text transform="translate(1064.4 398.0) rotate(-90) scale(1 1.035)" font-size="38.5" text-anchor="middle">P<tspan dy="10.5" font-size="26">out</tspan><tspan dy="-10.5">, mW</tspan></text>
</svg>
</body></html>
